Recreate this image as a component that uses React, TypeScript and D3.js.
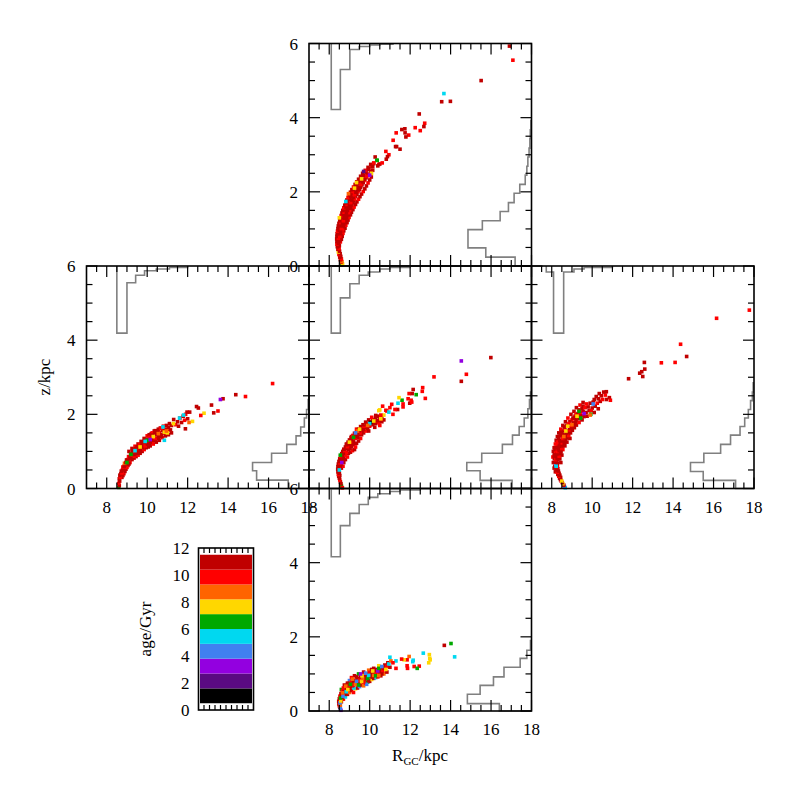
import React from "react";
import * as d3 from "d3";

type Pt = [number, number, number]; // [R_GC (kpc), z (kpc), age (Gyr)]

const R_RANGE: [number, number] = [7, 18];
const Z_RANGE: [number, number] = [0, 6];
const R_MAJOR = [8, 10, 12, 14, 16, 18];
const Z_MAJOR = [0, 2, 4, 6];
const AGE_EDGES = [0.5, 1.6, 2.7, 3.8, 4.9, 6.0, 7.1, 8.2, 9.3, 10.4, 11.5];
const AGE_COLORS = ["#000000", "#5a0a82", "#9300e0", "#4080f0", "#00d8f0", "#00a800", "#ffd700", "#ff6400", "#ff0000", "#c00000"];
const AGE_TICKS = [0, 2, 4, 6, 8, 10, 12];

// ---------- top panel ----------
const topPts: Pt[] = [
  [8.62,0.03,6.5],[8.66,0.05,7.5],[8.58,0.1,11],[8.63,0.12,8.7],[8.55,0.17,11],[8.6,0.19,10],[8.52,0.24,11],[8.57,0.26,11],[8.48,0.31,10],[8.54,0.33,11],[8.45,0.38,7.5],[8.51,0.4,11],[8.43,0.45,11],[8.49,0.47,10],[8.4,0.52,11],[8.46,0.54,11],[8.38,0.59,10],[8.45,0.61,11],[8.38,0.66,11],[8.44,0.68,11],[8.37,0.73,11],[8.45,0.75,10],[8.38,0.8,11],[8.46,0.82,11],[8.52,0.8,10],[8.39,0.87,11],[8.47,0.89,11],[8.54,0.87,11],[8.41,0.94,10],[8.49,0.96,11],[8.57,0.94,11],[8.43,1.01,11],[8.51,1.03,11],[8.6,1.01,10],[8.45,1.08,11],[8.54,1.1,11],[8.63,1.08,11],[8.48,1.15,11],[8.57,1.17,10],[8.66,1.15,11],[8.52,1.22,11],[8.61,1.24,11],[8.7,1.22,10],[8.55,1.29,11],[8.65,1.31,11],[8.75,1.29,11],[8.59,1.36,10],[8.69,1.38,11],[8.8,1.36,11],[8.63,1.43,11],[8.73,1.45,10],[8.85,1.43,11],[8.67,1.5,11],[8.78,1.52,11],[8.9,1.5,11],[8.72,1.57,10],[8.83,1.59,11],[8.95,1.57,11],[8.77,1.64,11],[8.88,1.66,10],[9.0,1.64,11],[8.82,1.71,11],[8.94,1.73,11],[9.06,1.71,10],[8.87,1.78,11],[9.0,1.8,11],[9.12,1.78,11],[8.93,1.85,10],[9.06,1.87,11],[9.18,1.85,11],[8.99,1.92,11],[9.12,1.94,11],[9.25,1.92,10],[9.05,1.99,11],[9.18,2.01,10],[9.32,1.99,11],[9.12,2.06,11],[9.25,2.08,11],[9.4,2.06,11],[9.2,2.13,10],[9.33,2.15,11],[9.48,2.13,11],[9.28,2.2,11],[9.42,2.22,11],[9.56,2.2,10],[9.36,2.27,11],[9.5,2.29,11],[9.65,2.27,11],[9.45,2.34,11],[9.6,2.36,10],[9.75,2.34,11],[9.55,2.42,11],[9.7,2.44,11],[9.85,2.42,10],[9.65,2.5,11],[9.82,2.52,11],[9.78,2.58,10],[9.95,2.6,11],[10.15,2.58,11],[9.92,2.66,11],[10.1,2.68,10],[10.05,2.74,11],[10.2,2.76,11],[10.45,2.74,10],
  [8.82,1.74,5.5],[9.35,2.25,7.5],[10.09,2.5,7.5],[10.37,2.85,6.5],[10.0,2.45,3],[9.6,2.35,7.5],[8.95,1.95,8.7],[9.7,2.55,2],[9.25,2.1,7.5],[8.5,1.3,7.5],
  [16.91,5.93,11],[17.08,5.55,10],[15.51,5.0,11],[13.67,4.65,5.5],[13.56,4.43,11],[13.99,4.44,11],[12.45,4.1,11],[12.72,3.85,10],[12.25,3.73,10],[12.68,3.76,11],[12.5,3.65,10],[11.59,3.68,11],[11.74,3.7,11],[11.31,3.59,10],[11.75,3.59,11],[11.93,3.53,10],[11.79,3.48,11],[11.16,3.39,10],[11.28,3.22,11],[11.33,3.22,11],[11.5,3.15,11],[10.8,3.09,10],[10.95,3.0,10],[10.88,2.95,11],[10.82,2.88,11],[10.27,2.94,11],[10.35,2.85,6.5],[10.2,2.78,10],[10.5,2.75,11],[10.62,2.78,10],[10.4,2.7,11],[10.15,2.68,11],[9.95,2.62,11]
];
const topEdge: Pt[] = [
  [8.5,0.55,11],[8.55,0.65,10],[8.6,0.72,11],[8.64,0.8,11],[8.68,0.88,10],[8.72,0.95,11],[8.78,1.02,11],[8.82,1.1,10],[8.88,1.17,11],[8.93,1.24,11],[8.98,1.31,10],[9.05,1.38,11],[9.1,1.45,11],[9.17,1.52,11],[9.23,1.59,10],[9.3,1.66,11],[9.37,1.73,11],[9.45,1.8,10],[9.52,1.87,11],[9.6,1.94,11],[9.68,2.01,10],[9.76,2.08,11],[9.84,2.16,11],[9.92,2.24,10],[10.0,2.32,11],[10.08,2.4,11],[8.6,0.9,11],[8.66,1.05,11],[8.75,1.2,11],[8.85,1.35,10],[8.95,1.48,11],[9.05,1.6,11],[9.15,1.72,11],[9.25,1.83,10],[9.35,1.95,11],[9.45,2.05,11],[9.55,2.15,11],[9.7,2.3,10],[8.48,0.65,11],[8.55,0.85,10],
  [8.52,0.7,11],[8.58,0.85,11],[8.66,1.0,10],[8.72,1.12,11],[8.8,1.25,11],[8.9,1.38,11],[9.0,1.5,10],[9.08,1.62,11],[9.2,1.75,11],[9.3,1.88,11],[9.42,2.0,10],[9.55,2.12,11],[9.68,2.25,11],[9.82,2.38,11],[9.95,2.48,10],[10.05,2.55,11],[8.55,0.76,11],[8.62,0.92,10],[8.69,1.06,11],[8.77,1.18,11],[8.86,1.31,11],[8.95,1.44,10],[9.04,1.56,11],[9.13,1.68,11],[9.25,1.81,10],[9.36,1.93,11],[9.49,2.06,11],[9.62,2.19,11],[9.75,2.32,10],[9.88,2.44,11]
];
const topREdges = [8.1, 8.55, 9.02, 9.48, 10.0, 10.5, 11.15];
const topRDepth = [1.78, 0.7, 0.16, 0.08, 0.04, 0.02];
const topZEdges = [0, 0.24, 0.49, 0.73, 0.98, 1.22, 1.47, 1.71, 1.96, 2.2, 2.45, 2.69, 2.94, 3.18, 3.43, 3.67, 3.92];
const topZDepth = [0.81, 2.26, 3.14, 3.14, 2.43, 1.55, 1.14, 0.86, 0.58, 0.31, 0.23, 0.18, 0.12, 0.08, 0.06, 0.03];

// ---------- left panel ----------
const leftPts: Pt[] = [
  [8.6,0.03,6.5],[8.62,0.08,11],[8.6,0.14,10],[8.64,0.2,11],[8.62,0.26,11],[8.67,0.3,10],[8.65,0.36,11],[8.7,0.4,11],[8.75,0.42,10],[8.72,0.47,11],[8.78,0.5,11],[8.82,0.54,11],[8.8,0.58,10],[8.86,0.6,11],[8.9,0.64,11],[8.88,0.68,8.7],[8.95,0.7,11],[9.0,0.72,10],[8.98,0.77,11],[9.05,0.78,11],[9.1,0.8,11],[9.08,0.86,10],[9.15,0.84,11],[9.2,0.88,11],[9.18,0.93,11],[9.26,0.9,10],[9.3,0.96,11],[9.35,0.92,11],[9.28,1.0,11],[9.4,1.0,10],[9.45,0.96,11],[9.5,1.04,11],[9.42,1.07,11],[9.55,1.0,11],[9.6,1.08,10],[9.53,1.12,11],[9.65,1.05,11],[9.7,1.13,11],[9.62,1.17,10],[9.78,1.1,11],[9.82,1.17,11],[9.75,1.22,11],[9.9,1.15,10],[9.95,1.24,11],[9.86,1.27,11],[10.02,1.2,11],[10.08,1.29,10],[10.0,1.33,11],[10.15,1.25,11],[10.2,1.34,11],[10.12,1.38,10],[10.28,1.3,11],[10.32,1.4,11],[10.25,1.44,11],[10.4,1.35,10],[10.45,1.45,11],[10.38,1.5,11],[10.55,1.4,11],[10.6,1.5,10],[10.52,1.55,11],[10.7,1.45,11],[10.75,1.56,11],[10.68,1.62,10],[10.85,1.5,11],[10.9,1.6,11],[11.0,1.55,10],[11.05,1.65,11],[11.15,1.58,11],[11.2,1.7,11],[11.31,1.86,11],[11.4,1.72,10],[11.5,1.8,11],[11.55,1.68,11],[11.62,1.9,10],[11.7,1.78,11],[11.78,1.95,11],[11.9,2.0,10],[11.97,2.06,11],[12.1,2.06,11],[11.85,1.84,10],[12.0,1.88,11],
  [10.78,1.66,5.5],[10.85,1.3,5.5],[10.85,1.52,7.5],[11.0,1.5,7.5],[10.95,1.55,8.7],[11.2,1.5,11],[11.6,1.9,5.5],[11.8,1.98,5.5],[10.0,1.3,6.5],[9.9,1.27,5.5],[9.65,1.12,7.5],[9.4,1.02,5.5],[9.2,0.92,6.5],[9.0,0.7,6.5],[10.3,1.4,7.5],[10.55,1.48,8.7],[11.3,1.75,7.5],[10.15,1.32,3],
  [16.2,2.83,10],[14.86,2.48,10],[14.38,2.53,11],[13.75,2.42,11],[13.62,2.4,3],[13.5,2.09,10],[13.18,2.25,11],[13.29,2.04,11],[12.81,2.03,7.5],[12.65,1.97,10],[12.44,2.21,11],[12.53,2.17,11],[12.24,1.81,7.5],[12.07,1.78,8.7],[11.89,1.61,11]
];
const leftEdge: Pt[] = [
  [8.75,0.3,11],[8.85,0.4,10],[8.95,0.52,11],[9.05,0.62,11],[9.15,0.7,10],[9.25,0.78,11],[9.35,0.82,11],[9.45,0.86,11],[9.55,0.9,10],[9.65,0.95,11],[9.75,1.0,11],[9.85,1.05,10],[9.95,1.1,11],[10.05,1.12,11],[10.15,1.15,11],[10.3,1.2,10],[10.45,1.25,11],[10.6,1.3,11],[10.75,1.37,10],[10.9,1.42,11],[11.05,1.45,11],[9.1,1.0,11],[9.25,1.08,11],[9.4,1.14,10],[9.55,1.2,11],[9.7,1.27,11],[9.85,1.35,11],[10.0,1.42,10],[10.2,1.48,11],[10.35,1.55,11],[10.55,1.6,11],[10.8,1.68,10],[11.1,1.75,11],
  [8.8,0.35,11],[8.9,0.46,11],[9.0,0.57,10],[9.1,0.66,11],[9.2,0.83,11],[9.35,0.87,10],[9.5,0.95,11],[9.65,1.0,11],[9.8,1.1,10],[9.95,1.17,11],[10.1,1.22,11],[10.25,1.25,10],[10.4,1.3,11],[10.55,1.35,11],[10.7,1.4,11],[10.9,1.5,10],[9.35,1.05,11],[9.5,1.12,11],[9.65,1.18,10],[9.8,1.25,11],[9.95,1.3,11],[10.1,1.45,11],[10.25,1.5,10],[10.4,1.56,11],[10.65,1.63,11],[10.95,1.7,11]
];
const leftREdges = [8.5, 9.0, 9.43, 9.87, 10.45, 11.1, 12.0];
const leftRDepth = [1.81, 0.45, 0.25, 0.13, 0.08, 0.04];
const leftZEdges = [0, 0.225, 0.48, 0.7, 0.95, 1.19, 1.42, 1.66, 1.9, 2.13, 2.4];
const leftZDepth = [1.03, 2.59, 2.79, 1.85, 1.1, 0.64, 0.41, 0.23, 0.12, 0.04];

// ---------- middle panel ----------
const midPts: Pt[] = [
  [8.62,0.03,10],[8.6,0.08,6.5],[8.58,0.13,11],[8.55,0.18,11],[8.52,0.23,10],[8.5,0.28,11],[8.47,0.33,11],[8.52,0.35,11],[8.45,0.38,10],[8.5,0.41,11],[8.43,0.45,11],[8.49,0.48,11],[8.42,0.52,11],[8.48,0.55,10],[8.43,0.59,11],[8.5,0.62,11],[8.45,0.66,11],[8.52,0.69,10],[8.48,0.73,11],[8.56,0.75,11],[8.52,0.8,11],[8.6,0.82,11],[8.56,0.87,10],[8.65,0.88,11],[8.62,0.94,11],[8.7,0.95,11],[8.67,1.0,11],[8.77,1.02,10],[8.72,1.06,11],[8.83,1.08,11],[8.8,1.12,11],[8.9,1.13,10],[8.86,1.18,11],[8.97,1.2,11],[8.93,1.25,11],[9.05,1.26,10],[9.0,1.31,11],[9.12,1.32,11],[9.08,1.37,11],[9.2,1.38,11],[9.17,1.43,10],[9.3,1.44,11],[9.25,1.49,11],[9.4,1.5,11],[9.36,1.55,10],[9.5,1.56,11],[9.45,1.6,11],[9.6,1.62,11],[9.55,1.67,11],[9.72,1.68,10],[9.67,1.72,11],[9.85,1.74,11],[9.8,1.79,11],[10.0,1.8,10],[9.95,1.85,11],[10.15,1.86,11],[10.3,1.9,11],[10.1,1.92,10],[10.45,1.95,11],[10.3,1.97,11],[10.55,1.88,10],[10.6,1.93,11],[10.4,1.83,11],
  [8.55,0.9,6.5],[8.5,0.5,5.5],[8.62,0.7,3],[9.0,1.25,7.5],[9.4,1.55,8.7],[9.5,1.6,7.5],[9.3,1.5,4.5],[10.04,1.78,1],[10.0,1.75,5.5],[9.9,1.7,8.7],[10.2,1.82,7.5],[10.55,1.88,7.5],[8.65,0.02,10],[9.2,1.38,6.5],
  [15.99,3.53,11],[14.53,3.44,3],[14.78,3.08,10],[14.53,2.89,11],[13.18,3.01,10],[12.62,2.72,10],[12.15,2.67,11],[12.6,2.62,10],[12.75,2.43,10],[11.95,2.56,10],[12.1,2.56,11],[12.3,2.53,6.5],[11.9,2.42,10],[12.05,2.38,10],[11.98,2.3,11],[12.08,2.33,10],[11.6,2.38,6.5],[11.45,2.45,7.5],[11.4,2.3,5.5],[11.65,2.28,10],[11.65,2.2,10],[11.09,2.27,10],[11.0,2.18,10],[11.38,2.13,11],[11.25,2.13,10],[10.64,2.22,10],[10.5,2.12,7.5],[10.45,2.1,7.5],[10.8,2.11,10],[10.85,2.09,10],[10.95,2.06,5.5],[11.15,2.0,10],[10.7,1.98,7.5],[10.55,1.98,10]
];
const midEdge: Pt[] = [
  [8.6,0.55,11],[8.68,0.6,10],[8.72,0.7,11],[8.8,0.78,11],[8.9,0.85,10],[8.95,0.95,11],[9.05,0.98,11],[9.15,1.02,10],[9.25,1.05,11],[9.1,1.12,11],[9.2,1.18,11],[9.3,1.12,10],[9.35,1.22,11],[9.45,1.28,11],[9.55,1.35,10],[9.4,1.38,11],[9.6,1.45,11],[9.7,1.5,11],[9.8,1.55,10],[9.65,1.58,11],[9.9,1.62,11],[10.0,1.68,10],[10.15,1.72,11],[10.3,1.75,11],[10.45,1.78,10],[10.6,1.8,11],[10.7,1.85,11],[10.25,1.65,11],[9.95,1.55,11],[9.0,1.15,10],[8.8,0.95,11],[8.65,0.8,11],[8.58,0.65,11],[9.75,1.65,11],[10.5,1.7,10],[8.85,1.2,11],[9.1,1.4,11],[9.35,1.6,10],
  [8.62,0.72,11],[8.72,0.85,11],[8.85,0.97,10],[8.95,1.05,11],[9.08,1.15,11],[9.2,1.27,11],[9.3,1.35,10],[9.45,1.45,11],[9.6,1.55,11],[9.8,1.65,11],[10.0,1.72,10],[10.25,1.8,11],[10.5,1.85,11],[8.55,0.6,11],[8.68,0.78,11],[8.78,0.9,10],[9.02,1.08,11],[9.15,1.2,11],[9.38,1.4,11],[9.52,1.5,10],[9.7,1.6,11],[9.9,1.68,11],[10.12,1.77,11],[10.38,1.82,10]
];
const midREdges = [8.1, 8.55, 9.02, 9.48, 9.93, 10.5, 11.0, 12.0];
const midRDepth = [1.81, 0.86, 0.48, 0.25, 0.16, 0.08, 0.04];
const midZEdges = [0, 0.22, 0.48, 0.7, 0.95, 1.19, 1.44, 1.67, 1.9, 2.15, 2.4, 2.6];
const midZDepth = [0.96, 2.54, 3.2, 2.46, 1.44, 0.94, 0.61, 0.36, 0.18, 0.1, 0.05];

// ---------- right panel ----------
const rightPts: Pt[] = [
  [8.67,0.02,5.5],[8.63,0.05,4.5],[8.6,0.09,11],[8.55,0.13,7.5],[8.52,0.16,11],[8.47,0.2,10],[8.43,0.24,11],[8.39,0.28,11],[8.44,0.3,11],[8.35,0.33,10],[8.4,0.36,11],[8.3,0.38,11],[8.36,0.41,11],[8.27,0.44,10],[8.33,0.47,11],[8.24,0.5,11],[8.3,0.53,11],[8.22,0.57,11],[8.28,0.6,10],[8.2,0.64,4.5],[8.27,0.67,11],[8.19,0.71,11],[8.26,0.74,11],[8.2,0.78,10],[8.27,0.81,11],[8.34,0.8,11],[8.22,0.86,11],[8.3,0.88,11],[8.37,0.87,10],[8.25,0.93,11],[8.33,0.95,11],[8.41,0.94,11],[8.28,1.0,10],[8.37,1.02,11],[8.45,1.01,11],[8.32,1.07,11],[8.41,1.09,11],[8.5,1.08,10],[8.37,1.14,11],[8.46,1.16,11],[8.55,1.15,11],[8.42,1.21,11],[8.52,1.23,10],[8.62,1.22,11],[8.48,1.28,11],[8.58,1.3,11],[8.68,1.29,11],[8.55,1.35,10],[8.66,1.37,11],[8.76,1.36,11],[8.62,1.42,11],[8.73,1.44,11],[8.84,1.43,10],[8.7,1.49,11],[8.82,1.51,11],[8.93,1.5,11],[8.79,1.56,11],[8.9,1.58,10],[9.02,1.57,11],[8.88,1.63,11],[9.0,1.65,11],[9.12,1.64,11],[8.98,1.7,10],[9.1,1.72,11],[9.22,1.71,11],[9.08,1.77,11],[9.2,1.79,11],[9.35,1.78,10],[9.2,1.85,11],[9.35,1.88,11],[9.5,1.85,11],[9.3,1.95,10],[9.45,1.97,11],[9.6,1.94,11],[9.75,1.95,11],[9.4,2.05,10],[9.55,2.08,11],[9.7,2.05,11],[9.85,2.1,11],[9.5,2.15,11],[9.65,2.18,10],[9.8,2.2,11],[10.0,2.17,11],[10.15,2.22,11],[9.72,2.28,10],[9.9,2.3,11],[10.05,2.33,11],[10.25,2.3,10],[10.4,2.35,11],[10.1,2.4,11],[10.3,2.42,11],[10.5,2.4,10],[10.7,2.4,11],[10.2,2.48,11],[10.45,2.5,11],[10.65,2.52,10],[10.85,2.45,11],[10.57,2.6,11],[10.7,2.61,11],[10.35,2.56,11],[9.95,2.1,10],[10.1,2.05,11],[10.3,2.15,11],[10.9,2.38,10],
  [8.5,0.2,7.5],[8.7,1.55,7.5],[8.79,1.68,7.5],[9.35,2.08,6.5],[9.43,1.9,6.5],[9.93,2.0,6.5],[9.9,1.98,8.7],[9.25,1.95,7.5],[9.6,2.02,3],[8.6,1.4,8.7],[8.22,0.6,5.5],[9.0,1.72,8.7],[10.05,2.28,4.5],
  [17.77,4.81,10],[16.15,4.59,10],[14.37,3.89,10],[14.67,3.56,11],[14.1,3.4,10],[13.42,3.39,10],[12.58,3.4,11],[12.6,3.22,11],[12.45,3.15,11],[12.35,3.11,11],[12.5,3.02,11],[11.8,2.96,11]
];
const rightEdge: Pt[] = [
  [8.12,0.55,11],[8.08,0.7,11],[8.06,0.85,10],[8.08,1.0,11],[8.12,1.1,11],[8.18,1.2,10],[8.22,1.3,11],[8.28,1.4,11],[8.35,1.5,11],[8.45,1.6,10],[8.55,1.7,11],[8.68,1.8,11],[8.8,1.9,10],[8.95,2.0,11],[9.1,2.08,11],[9.22,2.18,11],[9.4,2.25,10],[9.55,2.32,11],[8.5,0.9,11],[8.55,1.05,10],[8.65,1.15,11],[8.75,1.25,11],[8.9,1.35,11],[8.15,0.95,11],[8.2,1.1,11],[8.3,1.25,10],[8.42,1.42,11],[8.6,1.55,11],[8.75,1.7,11],[9.0,1.85,10],[9.15,1.95,11],[8.18,0.45,11],[8.45,0.7,11],
  [8.15,0.6,11],[8.13,0.8,11],[8.2,1.0,10],[8.3,1.15,11],[8.4,1.3,11],[8.52,1.45,11],[8.65,1.6,10],[8.78,1.7,11],[8.9,1.8,11],[9.05,1.9,11],[9.2,2.0,10],[9.35,2.12,11],[9.55,2.22,11],[8.12,0.9,11],[8.16,1.05,11],[8.25,1.2,10],[8.35,1.36,11],[8.48,1.52,11],[8.62,1.66,11],[8.85,1.75,10],[9.12,1.9,11],[9.3,2.02,11],[8.4,0.8,11],[8.45,0.98,11]
];
const rightREdges = [7.73, 8.09, 8.59, 9.1, 9.6, 11.0];
const rightRDepth = [0.16, 1.81, 0.16, 0.08, 0.04];
const rightZEdges = [0, 0.22, 0.46, 0.7, 0.95, 1.19, 1.44, 1.67, 1.9, 2.13, 2.37, 2.6, 2.85];
const rightZDepth = [0.91, 2.51, 3.14, 2.48, 1.65, 1.16, 0.69, 0.46, 0.28, 0.17, 0.08, 0.04];

// ---------- bottom panel ----------
const botPts: Pt[] = [
  [8.52,0.1,11],[8.5,0.14,10],[8.48,0.19,11],[8.47,0.26,11],[8.52,0.29,10],[8.5,0.33,11],[8.62,0.33,11],[8.53,0.4,10],[8.6,0.42,11],[8.58,0.47,11],[8.75,0.46,11],[8.65,0.54,10],[8.74,0.56,11],[8.72,0.6,11],[8.82,0.62,11],[8.92,0.68,11],[9.02,0.64,10],[8.95,0.74,11],[9.15,0.68,11],[9.1,0.78,10],[9.2,0.76,11],[9.25,0.83,11],[9.45,0.75,11],[9.4,0.88,11],[9.5,0.84,10],[9.55,0.92,11],[9.75,0.84,11],[9.7,0.96,10],[9.8,0.92,11],[9.85,1.0,11],[10.05,0.92,11],[10.0,1.04,10],[10.1,1.0,11],[10.25,1.04,11],[10.35,1.0,10],[10.3,1.12,11],[10.5,1.04,11],[10.55,1.12,11],[10.65,1.08,10],[10.7,1.16,11],[10.75,1.24,11],[10.85,1.2,10],[11.0,1.18,11],[10.9,1.3,11],[9.2,0.7,10],[9.0,0.6,11],[9.35,0.92,11],[10.1,1.12,11],[8.9,0.75,11],[10.6,1.0,11],[9.7,0.78,10],[9.95,0.82,11],[8.8,0.45,11],[8.7,0.62,10],
  [8.58,0.02,3],[8.55,0.06,4.5],[8.55,0.16,8.7],[8.53,0.22,4.5],[8.57,0.27,7.5],[8.56,0.35,6.5],[8.68,0.4,4.5],[8.66,0.49,8.7],[8.84,0.52,5.5],[8.92,0.58,7.5],[8.82,0.67,8.7],[9.05,0.72,6.5],[9.3,0.72,8.7],[9.35,0.8,4.5],[9.6,0.8,7.5],[9.65,0.88,8.7],[9.9,0.88,6.5],[9.95,0.96,5.5],[10.2,0.96,8.7],[10.15,1.08,7.5],[10.4,1.08,3],[10.45,1.15,6.5],[10.6,1.2,4.5],[10.8,1.12,7.5],[10.95,1.27,5.5],[9.45,0.7,6.5],[9.8,1.02,4.5],[9.62,0.95,7.5],[9.15,0.86,8.7],[10.3,0.95,6.5],[10.45,0.96,8.7],[9.55,1.0,3],
  [14.02,1.82,6.5],[13.69,1.77,11],[14.2,1.46,5.5],[12.95,1.52,7.5],[12.97,1.42,7.5],[12.99,1.38,7.5],[12.65,1.56,5.5],[12.92,1.3,7.5],[12.15,1.37,5.5],[12.13,1.33,5.5],[11.95,1.47,8.7],[11.85,1.38,10],[11.7,1.38,7.5],[11.58,1.4,10],[11.85,1.22,10],[11.87,1.15,10],[12.2,1.2,10],[12.45,1.21,10],[12.35,1.15,6.5],[11.3,1.15,10],[11.0,1.45,5.5],[11.3,1.35,5.5],[11.05,1.35,8.7],[11.15,1.3,10]
];
const botEdge: Pt[] = [
  [8.6,0.25,11],[8.7,0.32,10],[8.8,0.38,5.5],[8.9,0.45,11],[9.0,0.5,8.7],[9.1,0.55,11],[9.2,0.5,10],[9.3,0.6,7.5],[9.4,0.62,11],[9.5,0.66,4.5],[9.6,0.7,11],[9.7,0.68,8.7],[9.8,0.75,10],[9.9,0.78,6.5],[10.0,0.8,11],[10.1,0.85,7.5],[10.2,0.88,11],[10.3,0.9,5.5],[10.4,0.92,10],[10.55,0.95,11],[10.7,1.0,8.7],[10.85,1.05,11],[9.0,0.82,4.5],[9.25,0.95,11],[9.45,1.0,6.5],[9.7,1.05,11],[9.95,1.1,8.7],[10.2,1.15,11],[10.45,1.22,7.5],[8.75,0.7,11],[8.6,0.58,6.5],[9.1,0.9,10],[9.85,0.72,4.5],
  [8.68,0.5,11],[8.85,0.55,10],[9.05,0.65,11],[9.3,0.78,11],[9.55,0.78,8.7],[9.75,0.9,11],[10.05,0.98,10],[10.35,1.08,11],[10.65,1.12,11],[8.62,0.4,8.7],[8.95,0.62,11],[9.22,0.62,5.5],[9.62,0.88,11],[9.9,0.95,10],[10.15,0.92,11],[10.5,1.0,6.5]
];
const botREdges = [8.1, 8.55, 9.02, 9.48, 9.93, 10.4, 11.0, 11.5, 12.5];
const botRDepth = [1.84, 1.0, 0.67, 0.43, 0.24, 0.14, 0.08, 0.04];
const botZEdges = [0, 0.2, 0.45, 0.69, 0.92, 1.18, 1.42, 1.64, 1.9];
const botZDepth = [1.59, 3.17, 2.54, 1.88, 1.36, 0.56, 0.23, 0.05];

// ---------- layout ----------
const P = 222.5;
const COLS = [86.5, 309, 531.5];
const ROWS = [43.5, 266, 488.5];
const FONT = "'Liberation Serif', 'Times New Roman', serif";
const HIST = "#808080";

const ageColor = d3.scaleThreshold<number, string>().domain(AGE_EDGES.slice(1, -1)).range(AGE_COLORS);

type PanelProps = {
  x0: number; y0: number; pts: Pt[];
  rEdges: number[]; rDepth: number[]; zEdges: number[]; zDepth: number[];
  xLab: boolean; yLab: boolean;
};

function Panel({ x0, y0, pts, rEdges, rDepth, zEdges, zDepth, xLab, yLab }: PanelProps) {
  const x = d3.scaleLinear().domain(R_RANGE).range([x0, x0 + P]);
  const y = d3.scaleLinear().domain(Z_RANGE).range([y0 + P, y0]);
  const rMinor = d3.range(7.5, 18, 0.5).filter((v) => !R_MAJOR.includes(v));
  const zMinor = d3.range(0.5, 6, 0.5).filter((v) => !Z_MAJOR.includes(v));

  const rp = d3.path();
  rp.moveTo(x(rEdges[0]), y(6));
  rDepth.forEach((d, i) => {
    rp.lineTo(x(rEdges[i]), y(6 - d));
    rp.lineTo(x(rEdges[i + 1]), y(6 - d));
  });
  rp.lineTo(x(rEdges[rEdges.length - 1]), y(6));

  const zp = d3.path();
  zp.moveTo(x(18), y(zEdges[0]));
  zDepth.forEach((d, i) => {
    zp.lineTo(x(18 - d), y(zEdges[i]));
    zp.lineTo(x(18 - d), y(zEdges[i + 1]));
  });
  zp.lineTo(x(18), y(zEdges[zEdges.length - 1]));

  const MAJ = 11, MIN = 6;
  const s = 3.6;
  return (
    <g>
      <path d={rp.toString()} fill="none" stroke={HIST} strokeWidth={1.6} />
      <path d={zp.toString()} fill="none" stroke={HIST} strokeWidth={1.6} />
      {pts.map((p, i) => (
        <rect key={i} x={x(p[0]) - s / 2} y={y(p[1]) - s / 2} width={s} height={s} fill={ageColor(p[2])} />
      ))}
      <g stroke="#000" strokeWidth={1.2}>
        {R_MAJOR.concat(rMinor).map((v) => {
          const L = R_MAJOR.includes(v) ? MAJ : MIN;
          return (
            <g key={"x" + v}>
              <line x1={x(v)} x2={x(v)} y1={y(0)} y2={y(0) - L} />
              <line x1={x(v)} x2={x(v)} y1={y(6)} y2={y(6) + L} />
            </g>
          );
        })}
        {Z_MAJOR.concat(zMinor).map((v) => {
          const L = Z_MAJOR.includes(v) ? MAJ : MIN;
          return (
            <g key={"y" + v}>
              <line x1={x(7)} x2={x(7) + L} y1={y(v)} y2={y(v)} />
              <line x1={x(18)} x2={x(18) - L} y1={y(v)} y2={y(v)} />
            </g>
          );
        })}
      </g>
      <rect x={x0} y={y0} width={P} height={P} fill="none" stroke="#000" strokeWidth={1.6} />
      {xLab && R_MAJOR.map((v) => (
        <text key={"xl" + v} x={x(v)} y={y(0) + 24} textAnchor="middle" fontFamily={FONT} fontSize={17}>{v}</text>
      ))}
      {yLab && Z_MAJOR.map((v) => (
        <text key={"yl" + v} x={x(7) - 11} y={y(v) + 6} textAnchor="end" fontFamily={FONT} fontSize={17}>{v}</text>
      ))}
    </g>
  );
}

function ColorBar() {
  const bx0 = 198.5, bx1 = 253.5;
  const cy = d3.scaleLinear().domain([0, 12]).range([710, 548]);
  const tx = d3.range(1, 10).map((i) => bx0 + (i * (bx1 - bx0)) / 10);
  return (
    <g>
      {AGE_COLORS.map((c, i) => (
        <rect key={c} x={bx0 + 1.5} width={bx1 - bx0 - 3} y={cy(AGE_EDGES[i + 1])} height={cy(AGE_EDGES[i]) - cy(AGE_EDGES[i + 1])} fill={c} />
      ))}
      <g stroke="#000" strokeWidth={1.2}>
        {tx.map((t) => (
          <g key={t}>
            <line x1={t} x2={t} y1={cy(12)} y2={cy(12) + 5} />
            <line x1={t} x2={t} y1={cy(0)} y2={cy(0) - 5} />
          </g>
        ))}
      </g>
      <rect x={bx0} y={cy(12)} width={bx1 - bx0} height={cy(0) - cy(12)} fill="none" stroke="#000" strokeWidth={1.6} />
      {AGE_TICKS.map((v) => (
        <text key={v} x={bx0 - 9} y={cy(v) + 6} textAnchor="end" fontFamily={FONT} fontSize={17}>{v}</text>
      ))}
      <text transform={`translate(151,${cy(6)}) rotate(-90)`} textAnchor="middle" fontFamily={FONT} fontSize={17}>age/Gyr</text>
    </g>
  );
}

export default function App() {
  return (
    <svg width={797} height={797} style={{ position: "absolute", left: 0, top: 0, background: "#fff" }}>
      <rect width={797} height={797} fill="#fff" />
      <Panel x0={COLS[1]} y0={ROWS[0]} pts={[...topEdge, ...topPts]} rEdges={topREdges} rDepth={topRDepth} zEdges={topZEdges} zDepth={topZDepth} xLab={false} yLab={true} />
      <Panel x0={COLS[0]} y0={ROWS[1]} pts={[...leftEdge, ...leftPts]} rEdges={leftREdges} rDepth={leftRDepth} zEdges={leftZEdges} zDepth={leftZDepth} xLab={true} yLab={true} />
      <Panel x0={COLS[1]} y0={ROWS[1]} pts={[...midEdge, ...midPts]} rEdges={midREdges} rDepth={midRDepth} zEdges={midZEdges} zDepth={midZDepth} xLab={false} yLab={false} />
      <Panel x0={COLS[2]} y0={ROWS[1]} pts={[...rightEdge, ...rightPts]} rEdges={rightREdges} rDepth={rightRDepth} zEdges={rightZEdges} zDepth={rightZDepth} xLab={true} yLab={false} />
      <Panel x0={COLS[1]} y0={ROWS[2]} pts={[...botEdge, ...botPts]} rEdges={botREdges} rDepth={botRDepth} zEdges={botZEdges} zDepth={botZDepth} xLab={true} yLab={true} />
      <ColorBar />
      <text transform="translate(50,377) rotate(-90)" textAnchor="middle" fontFamily={FONT} fontSize={17}>z/kpc</text>
      <text x={420} y={761} textAnchor="middle" fontFamily={FONT} fontSize={17}>
        R<tspan fontSize={11} dy={4}>GC</tspan><tspan dy={-4}>/kpc</tspan>
      </text>
    </svg>
  );
}
